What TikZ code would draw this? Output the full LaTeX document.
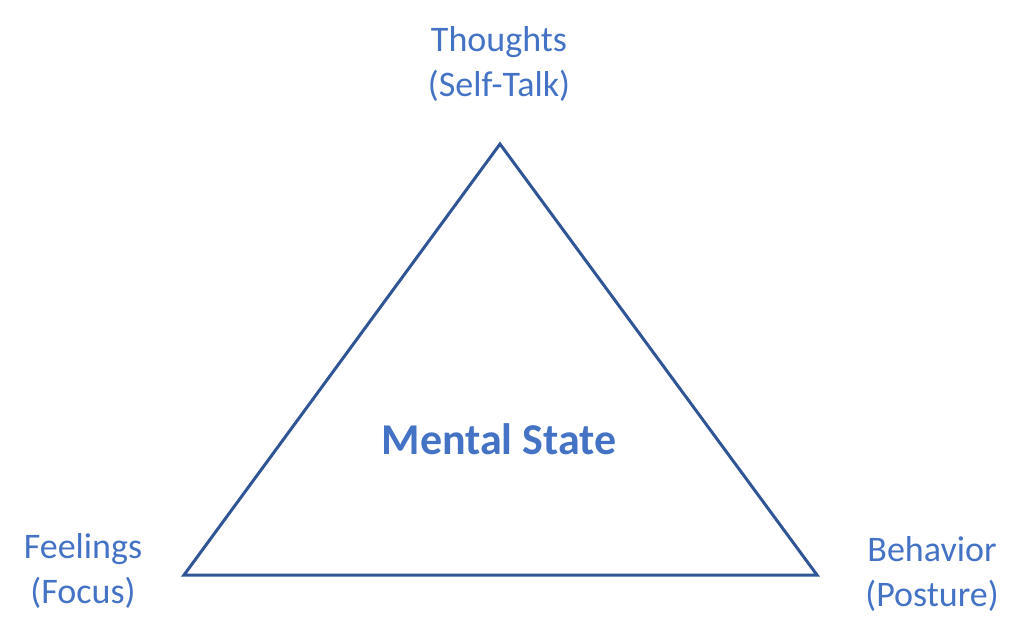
\documentclass[tikz,border=0pt]{standalone}
\usepackage{fontspec}
\setmainfont{Carlito}
\usepackage{tikz}
\definecolor{edgeblue}{HTML}{2F5597}
\definecolor{textblue}{HTML}{4472C4}

\begin{document}
\begin{tikzpicture}[x=1pt,y=-1pt,
		corner/.style={text=textblue,align=center,font=\fontsize{36}{45}\selectfont,inner sep=0pt},
		centre/.style={text=textblue,font=\fontsize{44}{53}\selectfont\bfseries,inner sep=0pt}]
			\useasboundingbox (0,0) rectangle (1024,643);
				% corners of the triangle
				\coordinate (top) at (500,144);
				\coordinate (left) at (184,575);
				\coordinate (right) at (817,575);
				\draw[edgeblue,line width=3pt,line join=miter] (top) -- (right) -- (left) -- cycle;
				
				\node[corner] (thoughts) at (499,64) {Thoughts\\(Self-Talk)};
				\node[corner] (feelings) at (83,571) {Feelings\\(Focus)};
				\node[corner] (behavior) at (932,574) {Behavior\\(Posture)};
				
				\node[centre] (state) at (499,439) {Mental State};
				
		\end{tikzpicture}
\end{document}
